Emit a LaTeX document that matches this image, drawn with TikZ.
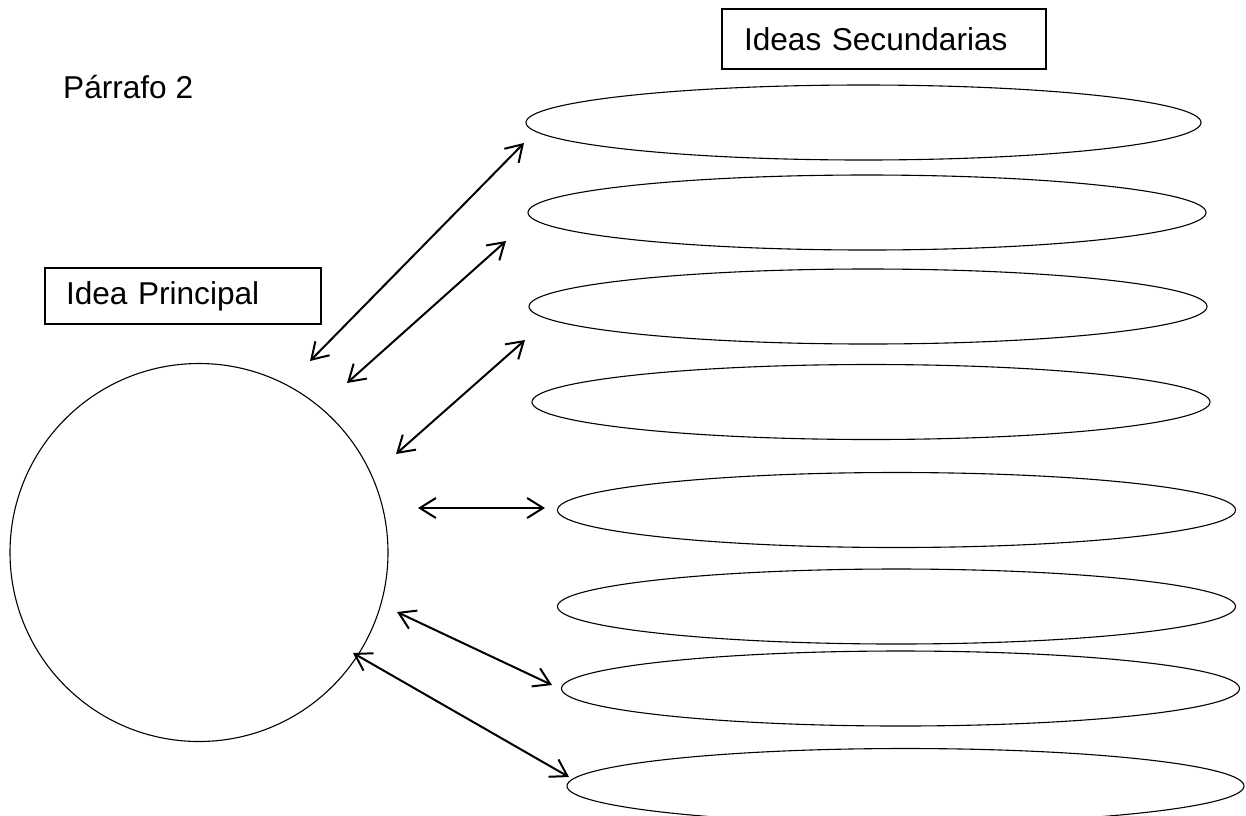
\documentclass[tikz,border=0pt]{standalone}
\usepackage{fontspec}
\setmainfont{Liberation Sans}
\usetikzlibrary{shapes.geometric,arrows.meta}

\begin{document}
\begin{tikzpicture}[x=1pt,y=-1pt]
	\useasboundingbox (0,0) rectangle (1246,815);
	\clip (0,0) rectangle (1246,815);

	\begin{scope}[every node/.style={font=\fontsize{31.6}{38}\selectfont}]
		\node [anchor=base west,inner sep=0] (T) at (63,98) {Párrafo 2};
		\node [draw,line width=1.2pt,text width=234pt,inner xsep=21pt,minimum height=56pt,align=left] (IP) at (183,296) {Idea Principal};
		\node [draw,line width=1.2pt,text width=280pt,inner xsep=22pt,minimum height=60pt,align=left] (IS) at (884,39) {Ideas Secundarias};
	\end{scope}

	\begin{scope}[every node/.style={ellipse,draw,line width=1.1pt,inner sep=0,minimum width=678pt,minimum height=75pt}]
		\node [circle,minimum size=378pt] (P) at (199,552.5) {};
		\node [minimum width=675pt] (S1) at (863.5,122.5) {};
		\node (S2) at (867,212.5) {};
		\node (S3) at (868,306.5) {};
		\node (S4) at (871,402) {};
		\node (S5) at (896.5,510) {};
		\node (S6) at (896.5,606.5) {};
		\node (S7) at (900.5,688.5) {};
		\node [minimum width=677pt] (S8) at (905.5,786) {};
	\end{scope}

	\coordinate (a1) at (310,361);
	\coordinate (b1) at (524,143);
	\coordinate (a2) at (347,383);
	\coordinate (b2) at (506,241);
	\coordinate (a3) at (396,454);
	\coordinate (b3) at (525,340);
	\coordinate (a4) at (418,508);
	\coordinate (b4) at (545,508);
	\coordinate (a5) at (397,612);
	\coordinate (b5) at (552,685);
	\coordinate (a6) at (353,653);
	\coordinate (b6) at (569,777);

	\begin{scope}[>={Straight Barb[length=16pt,width=20pt]},every edge/.style={draw=black,line width=2pt}]
		\path [<->] (a1) edge (b1);
		\path [<->] (a2) edge (b2);
		\path [<->] (a3) edge (b3);
		\path [<->] (a4) edge (b4);
		\path [<->] (a5) edge (b5);
		\path [<->] (a6) edge (b6);
	\end{scope}
\end{tikzpicture}
\end{document}
